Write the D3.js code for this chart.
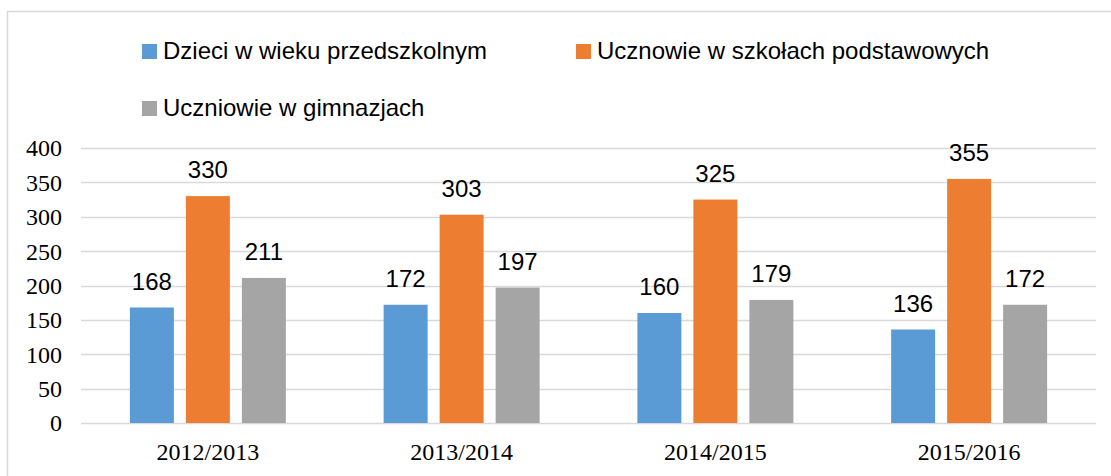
<!DOCTYPE html>
<html>
<head>
<meta charset="utf-8">
<script src="https://cdnjs.cloudflare.com/ajax/libs/d3/7.8.5/d3.min.js"></script>
<style>
    body { margin: 0; background: #ffffff; }
</style>
</head>
<body>
<svg id="chart"></svg>
<script>
var categories = ["2012/2013", "2013/2014", "2014/2015", "2015/2016"];
var seriesNames = ["Dzieci w wieku przedszkolnym", "Ucznowie w szkołach podstawowych", "Uczniowie w gimnazjach"];
var preschool = [168, 172, 160, 136];
var primary = [330, 303, 325, 355];
var middle = [211, 197, 179, 172];
var yTicks = [0, 50, 100, 150, 200, 250, 300, 350, 400];

var colours = ["#5B9BD5", "#ED7D31", "#A5A5A5"];

function chart()
{
    var width = 1111;
    var height = 476;
    var seriesValues = [preschool, primary, middle];

    // one row per year, one value per series
    var data = categories.map(function (c, i) {
        return { year: c, values: seriesValues.map(function (s, j) { return { key: j, value: s[i] }; }) };
    });

    var svg = d3.select("#chart")
        .attr("width", width)
        .attr("height", height);

    // chart frame (right and bottom edges fall outside the picture)
    svg.append("rect")
        .attr("x", 7.5)
        .attr("y", 11.5)
        .attr("width", 1200)
        .attr("height", 600)
        .attr("fill", "none")
        .attr("stroke", "#D9D9D9")
        .attr("stroke-width", 1.5);

    var xScale = d3.scaleBand()
        .domain(categories)
        .range([81, 1096]);

    var groupWidth = 156;
    var xInner = d3.scaleBand()
        .domain([0, 1, 2])
        .range([0, groupWidth])
        .paddingInner(12 / 56);

    var yScale = d3.scaleLinear()
        .domain([0, 400])
        .range([423, 148]);

    // gridlines
    svg.append("g")
        .selectAll("line")
        .data(yTicks)
        .enter()
        .append("line")
        .attr("x1", 81)
        .attr("x2", 1096)
        .attr("y1", function (d) { return Math.round(yScale(d)) + 0.5; })
        .attr("y2", function (d) { return Math.round(yScale(d)) + 0.5; })
        .attr("stroke", "#D9D9D9")
        .attr("stroke-width", 1.5);

    var YAxis = d3.axisLeft(yScale)
        .tickValues(yTicks)
        .tickSize(0)
        .tickPadding(19);

    var yAxisG = svg.append("g")
        .attr("transform", "translate(81,0)")
        .call(YAxis);
    yAxisG.select(".domain").remove();
    yAxisG.selectAll("text")
        .attr("dy", "0.33em")
        .style("font-family", "'Liberation Serif', 'Times New Roman', serif")
        .style("font-size", "24px")
        .attr("fill", "#000");

    var XAxis = d3.axisBottom(xScale)
        .tickSize(0)
        .tickPadding(20);

    var xAxisG = svg.append("g")
        .attr("transform", "translate(0,423)")
        .call(XAxis);
    xAxisG.select(".domain").remove();
    xAxisG.selectAll("text")
        .style("font-family", "'Liberation Serif', 'Times New Roman', serif")
        .style("font-size", "24px")
        .attr("fill", "#000");

    var groups = svg.selectAll("g.year")
        .data(data)
        .enter()
        .append("g")
        .attr("class", "year")
        .attr("transform", function (d) {
            return "translate(" + (xScale(d.year) + (xScale.bandwidth() - groupWidth) / 2) + ",0)";
        });

    groups.selectAll("rect")
        .data(function (d) { return d.values; })
        .enter()
        .append("rect")
        .attr("x", function (d) { return xInner(d.key); })
        .attr("y", function (d) { return yScale(d.value); })
        .attr("width", xInner.bandwidth())
        .attr("height", function (d) { return yScale(0) - yScale(d.value); })
        .attr("fill", function (d) { return colours[d.key]; });

    groups.selectAll("text.label")
        .data(function (d) { return d.values; })
        .enter()
        .append("text")
        .attr("class", "label")
        .attr("x", function (d) { return xInner(d.key) + xInner.bandwidth() / 2; })
        .attr("y", function (d) { return yScale(d.value) - 18; })
        .attr("text-anchor", "middle")
        .style("font-family", "'Liberation Sans', Arial, sans-serif")
        .style("font-size", "24px")
        .attr("fill", "#000")
        .text(function (d) { return d.value; });

    // legend, two rows like the original
    var legendPos = [[142, 44], [576, 44], [142, 101]];
    var legend = svg.selectAll("g.legend")
        .data(seriesNames)
        .enter()
        .append("g")
        .attr("class", "legend")
        .attr("transform", function (d, i) { return "translate(" + legendPos[i][0] + "," + legendPos[i][1] + ")"; });

    legend.append("rect")
        .attr("width", 15)
        .attr("height", 15)
        .attr("fill", function (d, i) { return colours[i]; });

    legend.append("text")
        .attr("x", 21)
        .attr("y", 15)
        .style("font-family", "'Liberation Sans', Arial, sans-serif")
        .style("font-size", "24px")
        .attr("fill", "#000")
        .text(function (d) { return d; });
}

chart();
</script>
</body>
</html>
